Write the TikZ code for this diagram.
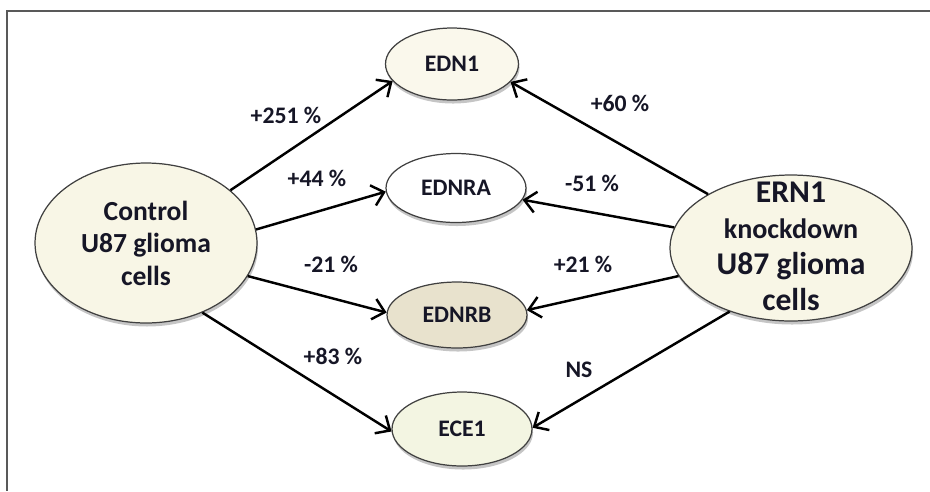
\documentclass[tikz,border=0pt]{standalone}
\usepackage{fontspec}
\setmainfont{Carlito}
\usetikzlibrary{arrows.meta,shapes,positioning,shadows}
\definecolor{inkcol}{RGB}{22,22,38}
\definecolor{cellfill}{RGB}{248,246,230}
\definecolor{ednfill}{RGB}{250,248,236}
\definecolor{rafill}{RGB}{255,255,255}
\definecolor{rbfill}{RGB}{232,226,205}
\definecolor{ecefill}{RGB}{243,245,226}
\tikzset{
    effect/.style={-{Straight Barb[length=2.3mm, width=4.2mm]}, line width=1.4pt, black},
    gene/.style={draw=black!75, ellipse, line width=0.7pt, inner sep=0pt, minimum width=2.8cm, minimum height=1.38cm, text=inkcol, font=\fontsize{13.5}{15}\selectfont\bfseries, drop shadow={shadow xshift=0.6pt, shadow yshift=-2pt, fill=black!45, opacity=0.5}},
    cellline/.style={gene, fill=cellfill},
    pct/.style={text=inkcol, font=\fontsize{13.5}{15}\selectfont\bfseries}
}

\begin{document}
\begin{tikzpicture}[x=0.02cm, y=-0.02cm]
    \useasboundingbox (0,0) rectangle (930,491);
    \draw[black!65, line width=1.1pt] (930,11) -- (7,11) -- (7,491);

    % the four genes
    \node[gene, fill=ednfill, minimum width=2.66cm, minimum height=1.44cm] (edn1) at (452,64) {EDN1};
    \node[gene, fill=rafill] (ednra) at (456,188) {EDNRA};
    \node[gene, fill=rbfill, minimum height=1.32cm] (ednrb) at (457,315) {EDNRB};
    \node[gene, fill=ecefill, minimum height=1.48cm] (ece1) at (462,429) {ECE1};

    % the two cell lines
    \node[cellline, minimum width=4.44cm, minimum height=3.2cm, align=center,
          font=\fontsize{15.7}{18.5}\selectfont\bfseries] (ctl) at (146,243)
          {Control\\U87 glioma\\cells};
    \node[cellline, minimum width=4.84cm, minimum height=2.92cm] (ern1) at (791,248) {};
    \node[text=inkcol, align=center, font=\fontsize{18}{20.5}\selectfont\bfseries] (ern1txt) at (791,246)
          {ERN1\\{\fontsize{16}{20.5}\selectfont knockdown}\\U87 glioma\\cells};

    \draw[effect] (ctl.32) -- (edn1.196);
    \draw[effect] (ctl.7) -- (ednra.183);
    \draw[effect] (ctl.342) -- (ednrb.178);
    \draw[effect] (ctl.309) -- (ece1.182);
    \draw[effect] (ern1.147) -- (edn1.343);
    \draw[effect] (ern1.170) -- (ednra.350);
    \draw[effect] (ern1.194) -- (ednrb.4);
    \draw[effect] (ern1.226) -- (ece1.1);

    \node[pct] (p251) at (286,115) {+251 \%};
    \node[pct] (p44) at (317,178) {+44 \%};
    \node[pct] (m21) at (331,264) {-21 \%};
    \node[pct] (p83) at (333,356) {+83 \%};
    \node[pct] (p60) at (620,103) {+60 \%};
    \node[pct] (m51) at (592,183) {-51 \%};
    \node[pct] (p21) at (583,264) {+21 \%};
    \node[pct] (ns) at (579,370) {NS};
\end{tikzpicture}
\end{document}
